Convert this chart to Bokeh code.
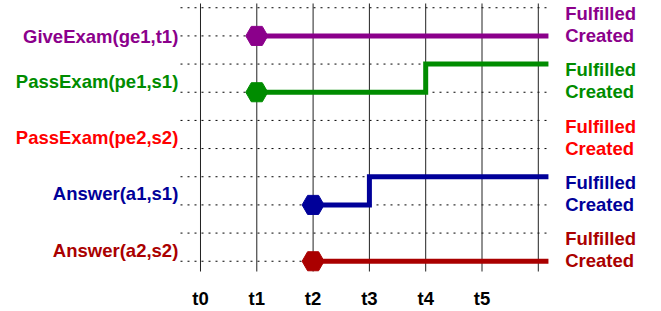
from bokeh.plotting import figure
from bokeh.models import Range1d, FixedTicker, ColumnDataSource
from bokeh.core.properties import value
from bokeh.embed import file_html
from bokeh.resources import INLINE

# ---- data ----
events = ["GiveExam(ge1,t1)", "PassExam(pe1,s1)", "PassExam(pe2,s2)",
          "Answer(a1,s1)", "Answer(a2,s2)"]
event_colors = ["#8B008B", "#008C00", "#FF0000", "#000099", "#AA0000"]
created_time = [1, 1, None, 2, 2]
fulfilled_time = [None, 4, None, 3, None]
states = ["Created", "Fulfilled"]
time_ticks = [0, 1, 2, 3, 4, 5, 6]
time_labels = ["t0", "t1", "t2", "t3", "t4", "t5"]
time_end = 6.18
time_start = -0.355

FONT = "Liberation Sans"
FS = "18.5px"

n = len(events)

def created_level(i):
    return 2 * (n - 1 - i)

p = figure(width=661, height=311, output_backend="svg", toolbar_location=None,
           x_range=Range1d(-3.552, 8.188), y_range=Range1d(-0.506, 9.257),
           y_axis_type=None, min_border=0, min_border_bottom=35)
p.xgrid.visible = False
p.ygrid.visible = False
p.outline_line_color = None

# axis
p.xaxis.ticker = FixedTicker(ticks=list(range(len(time_labels))))
p.xaxis.major_label_overrides = {i: lab for i, lab in enumerate(time_labels)}
p.xaxis.axis_line_color = None
p.xaxis.major_tick_line_color = None
p.xaxis.minor_tick_line_color = None
p.xaxis.major_label_text_font = FONT
p.xaxis.major_label_text_font_style = "bold"
p.xaxis.major_label_text_font_size = FS
p.xaxis.major_label_text_color = "black"
p.xaxis.major_label_standoff = 6

# horizontal dotted level lines
levels = list(range(2 * n))
p.segment(x0=[time_start] * len(levels), y0=levels,
          x1=[time_end] * len(levels), y1=levels,
          line_color="#000000", line_width=1, line_dash="2 5")

# vertical time lines
p.segment(x0=time_ticks, y0=[-0.364] * len(time_ticks),
          x1=time_ticks, y1=[9.151] * len(time_ticks),
          line_color="#222222", line_width=1)

# state lines
for i, ev in enumerate(events):
    c = created_time[i]
    if c is None:
        continue
    cl = created_level(i)
    f = fulfilled_time[i]
    if f is None:
        xs, ys = [c, time_end], [cl, cl]
    else:
        xs, ys = [c, f, time_end], [cl, cl + 1, cl + 1]
    p.step(x=xs, y=ys, mode="after", line_color=event_colors[i],
           line_width=5, line_join="miter", line_cap="butt")
    p.scatter(x=[c], y=[cl], marker="hex", size=22,
              fill_color=event_colors[i], line_color=event_colors[i], line_width=1)

# left labels
left_offsets = [0.5, -11, -11, -11, -11]
src_left = ColumnDataSource(dict(
    x=[-0.394] * n, y=[created_level(i) for i in range(n)],
    text=events, color=event_colors, yo=left_offsets))
p.text(x="x", y="y", text="text", text_color="color", y_offset="yo",
       source=src_left, text_align="right", text_baseline="alphabetic",
       text_font=value(FONT), text_font_style="bold", text_font_size=FS)

# right labels
rx, ry, rt, rc, ro = [], [], [], [], []
for i in range(n):
    cl = created_level(i)
    rx += [6.477, 6.477]
    ry += [cl, cl + 1]
    rt += [states[0], states[1]]
    rc += [event_colors[i], event_colors[i]]
    ro += [-0.3, 5.8]
src_right = ColumnDataSource(dict(x=rx, y=ry, text=rt, color=rc, yo=ro))
p.text(x="x", y="y", text="text", text_color="color", y_offset="yo",
       source=src_right, text_align="left", text_baseline="alphabetic",
       text_font=value(FONT), text_font_style="bold", text_font_size=FS)

open("out.html", "w").write(file_html(p, INLINE))
